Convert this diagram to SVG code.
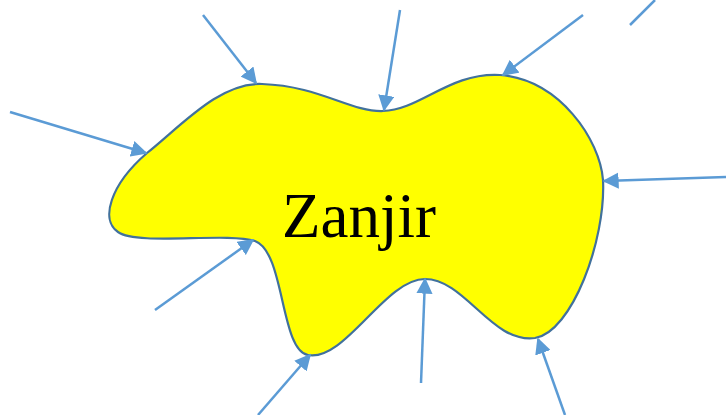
<svg xmlns="http://www.w3.org/2000/svg" width="726" height="415" viewBox="0 0 726 415">
<defs>
<style>
.blob{fill:#FFFF00;stroke:#41719C;stroke-width:2.2}
.lbl{font-family:"Liberation Serif","Times New Roman",serif;font-size:63px;fill:#000}
.arr{stroke:#5B9BD5;stroke-width:2.5;fill:none}
.head{marker-end:url(#ah)}
</style>
<marker id="ah" viewBox="0 0 10 10" refX="9" refY="5" markerWidth="6.5" markerHeight="6.5" markerUnits="strokeWidth" orient="auto">
<path d="M0,0 L10,5 L0,10 Z" fill="#5B9BD5"/>
</marker>
</defs>
<g id="zanjir">
<path class="blob" d="M 262,84 C 320,86 350,112 383,111 C 420,110 450,72 500,75 C 560,80 600,140 603,180 C 606,240 572,332 535,338 C 492,344 465,279 425,279 C 385,279 345,362 308,355 C 280,350 285,252 255,241 C 225,232 138,246 118,232 C 100,220 110,185 147,153 C 182,125 220,82 262,84 Z"/>
<text class="lbl" x="282" y="237">Zanjir</text>
</g>
<g id="connectors">
<line class="arr head" x1="203" y1="15" x2="256" y2="83"/>
<line class="arr head" x1="400" y1="10" x2="384" y2="110"/>
<line class="arr head" x1="583" y1="15" x2="503" y2="75"/>
<line class="arr" x1="655" y1="0" x2="630" y2="25"/>
<line class="arr head" x1="10" y1="112" x2="146" y2="153"/>
<line class="arr head" x1="726" y1="177" x2="604" y2="181"/>
<line class="arr head" x1="155" y1="310" x2="253" y2="240"/>
<line class="arr head" x1="258" y1="415" x2="310" y2="355"/>
<line class="arr head" x1="421" y1="383" x2="425" y2="279"/>
<line class="arr head" x1="565" y1="415" x2="538" y2="339"/>
</g>
</svg>
